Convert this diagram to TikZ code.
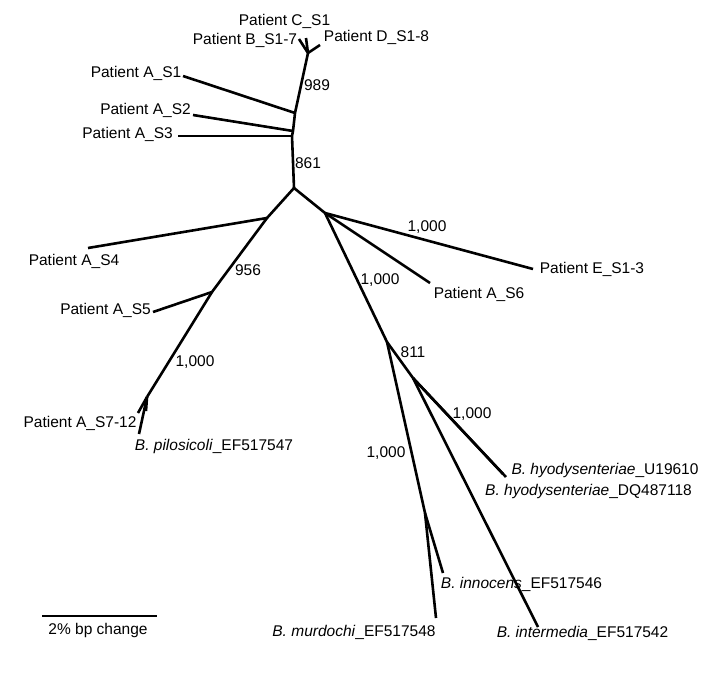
\documentclass[tikz,border=0pt]{standalone}
\usepackage{fontspec}
\setmainfont{Liberation Sans}
\usepackage{xcolor}
\definecolor{cLine}{HTML}{000000}
\usetikzlibrary{positioning}
\tikzset{
  branch/.style={draw=cLine,line width=2.6pt},
  leaf-label/.style={inner sep=0pt,text=cLine},
  boot-label/.style={inner sep=0pt,text=cLine},
}
\newcommand{\spc}[1]{\textit{#1}}

\begin{document}
\begin{tikzpicture}[x=1pt,y=-1pt,font=\fontsize{15.5}{18}\selectfont]
  \useasboundingbox (0,0) rectangle (720,672);
  % inner nodes
  \coordinate (root) at (294,188);
  \coordinate (nA3)  at (292,136);
  \coordinate (nA2)  at (293,131);
  \coordinate (n989) at (295,113);
  \coordinate (nBCD) at (308,53);
  \coordinate (nA4)  at (267,218);
  \coordinate (nA5)  at (212,292);
  \coordinate (nPil) at (147,397);
  \coordinate (nE)   at (325,213);
  \coordinate (n811) at (387,342);
  \coordinate (nHyo) at (413,378);
  \coordinate (nInn) at (425,513);
  % leaves
  \coordinate (lB)   at (299,39);
  \coordinate (lC)   at (306,38);
  \coordinate (lD)   at (320,45);
  \coordinate (lA1)  at (183,76);
  \coordinate (lA2)  at (193,115);
  \coordinate (lA3)  at (178,136);
  \coordinate (lA4)  at (88,248);
  \coordinate (lA5)  at (153,312);
  \coordinate (lA7)  at (138,413);
  \coordinate (lA7b) at (146,411);
  \coordinate (lPil) at (139,434);
  \coordinate (lE)   at (533,269);
  \coordinate (lA6)  at (430,283);
  \coordinate (lHyU) at (506,477);
  \coordinate (lHyD) at (503,474);
  \coordinate (lInt) at (538,627);
  \coordinate (lInn) at (443,573);
  \coordinate (lMur) at (436,618);
  \coordinate (sbL)  at (42,616);
  \coordinate (sbR)  at (157,616);

  \draw[branch] (root) -- (nA3) -- (nA2) -- (n989) -- (nBCD);
  \draw[branch] (nBCD) -- (lB);
  \draw[branch] (nBCD) -- (lC);
  \draw[branch] (nBCD) -- (lD);
  \draw[branch] (n989) -- (lA1);
  \draw[branch] (nA2) -- (lA2);
  \draw[branch] (nA3) -- (lA3);
  \draw[branch] (root) -- (nA4) -- (nA5) -- (nPil);
  \draw[branch] (nA4) -- (lA4);
  \draw[branch] (nA5) -- (lA5);
  \draw[branch] (nPil) -- (lA7);
  \draw[branch] (nPil) -- (lA7b);
  \draw[branch] (nPil) -- (lPil);
  \draw[branch] (root) -- (nE) -- (n811) -- (nHyo);
  \draw[branch] (nE) -- (lE);
  \draw[branch] (nE) -- (lA6);
  \draw[branch] (nHyo) -- (lHyU);
  \draw[branch] (nHyo) -- (lHyD);
  \draw[branch] (nHyo) -- (lInt);
  \draw[branch] (n811) -- (nInn) -- (lMur);
  \draw[branch] (nInn) -- (lInn);
  \draw[branch] (sbL) -- (sbR);

  % taxon labels
  \node[leaf-label] (tC)   at (284.5,21)  {Patient C\_S1};
  \node[leaf-label] (tB)   at (245,40)    {Patient B\_S1-7};
  \node[leaf-label] (tD)   at (376.5,37)  {Patient D\_S1-8};
  \node[leaf-label] (tA1)  at (136,73)    {Patient A\_S1};
  \node[leaf-label] (tA2)  at (145.5,110) {Patient A\_S2};
  \node[leaf-label] (tA3)  at (127.5,134) {Patient A\_S3};
  \node[leaf-label] (tA4)  at (74,261)    {Patient A\_S4};
  \node[leaf-label] (tA5)  at (105.5,310) {Patient A\_S5};
  \node[leaf-label] (tA7)  at (80,423)    {Patient A\_S7-12};
  \node[leaf-label] (tPil) at (214,446)   {\spc{B. pilosicoli}\_EF517547};
  \node[leaf-label] (tE)   at (592,269)   {Patient E\_S1-3};
  \node[leaf-label] (tA6)  at (479,294)   {Patient A\_S6};
  \node[leaf-label] (tHyU) at (605,470)   {\spc{B. hyodysenteriae}\_U19610};
  \node[leaf-label] (tHyD) at (588.5,491) {\spc{B. hyodysenteriae}\_DQ487118};
  \node[leaf-label] (tInn) at (521.5,584) {\spc{B. innocens}\_EF517546};
  \node[leaf-label] (tMur) at (354,632)   {\spc{B. murdochi}\_EF517548};
  \node[leaf-label] (tInt) at (582.5,633) {\spc{B. intermedia}\_EF517542};
  \node[leaf-label] (tSb)  at (98,630)    {2\% bp change};

  % bootstrap values
  \node[boot-label] (b989)  at (317,85)  {989};
  \node[boot-label] (b861)  at (308,163) {861};
  \node[boot-label] (b956)  at (248,270) {956};
  \node[boot-label] (bPil)  at (195,362) {1,000};
  \node[boot-label] (bE)    at (427,227) {1,000};
  \node[boot-label] (bRt)   at (380,280) {1,000};
  \node[boot-label] (b811)  at (413,352) {811};
  \node[boot-label] (bHyo)  at (472,414) {1,000};
  \node[boot-label] (bInn)  at (386,453) {1,000};
\end{tikzpicture}
\end{document}
